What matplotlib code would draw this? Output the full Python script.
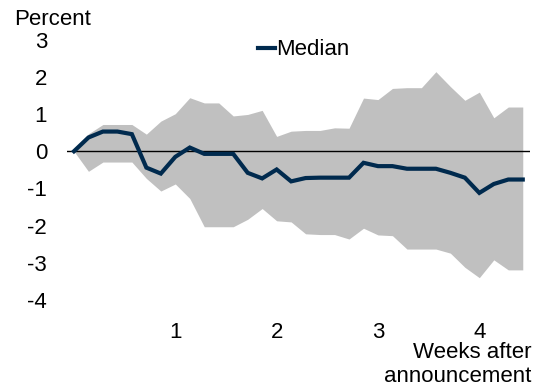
import numpy as np
import matplotlib
matplotlib.use("Agg")
import matplotlib.pyplot as plt

plt.rcParams['font.family'] = ['Liberation Sans', 'DejaVu Sans']

days = list(range(32))
median = [0.0, 0.37, 0.53, 0.53, 0.46, -0.44, -0.6, -0.15, 0.1, -0.07, -0.07, -0.07,
          -0.58, -0.73, -0.49, -0.81, -0.72, -0.71, -0.71, -0.71, -0.31, -0.4, -0.4,
          -0.47, -0.47, -0.47, -0.58, -0.71, -1.12, -0.88, -0.76, -0.76]
upper = [0.0, 0.47, 0.72, 0.72, 0.72, 0.46, 0.81, 1.01, 1.44, 1.3, 1.3, 0.95,
         0.99, 1.1, 0.4, 0.54, 0.56, 0.56, 0.63, 0.62, 1.43, 1.39, 1.69,
         1.71, 1.71, 2.14, 1.74, 1.37, 1.59, 0.9, 1.19, 1.19]
lower = [0.0, -0.54, -0.29, -0.29, -0.29, -0.73, -1.07, -0.88, -1.27, -2.03, -2.03, -2.03,
         -1.83, -1.54, -1.87, -1.9, -2.22, -2.24, -2.24, -2.36, -2.07, -2.25, -2.27,
         -2.63, -2.63, -2.63, -2.74, -3.12, -3.4, -2.92, -3.19, -3.19]
yticks = [-4, -3, -2, -1, 0, 1, 2, 3]
xticks = [1, 2, 3, 4]

weeks = np.array(days) / 7.0
FS = 16

fig = plt.figure(figsize=(5.39, 3.87), dpi=100)
ax = fig.add_axes([0.1237, 0.2248, 0.9833 - 0.1237, 0.8974 - 0.2248])

ax.fill_between(weeks, lower, upper, color='#c0c0c0', linewidth=0, zorder=1)
ax.axhline(0, color='black', linewidth=1.0, zorder=2)
ax.plot(weeks, median, color='#002a4e', linewidth=3, label='Median', zorder=3,
        solid_joinstyle='miter')

ax.set_xlim(-0.072, 4.50)
ax.set_ylim(-4, 3)
ax.set_yticks(yticks)
ax.set_yticklabels([str(t) for t in yticks])
ax.set_xticks(xticks)
ax.set_xticklabels([str(t) for t in xticks])
ax.tick_params(axis='both', length=0, labelsize=FS)
ax.tick_params(axis='y', pad=14)
ax.tick_params(axis='x', pad=16)
for s in ax.spines.values():
    s.set_visible(False)

fig.text(0.026, 0.935, 'Percent', fontsize=FS, ha='left', va='baseline')
fig.text(0.986, 0.090, 'Weeks after', fontsize=FS, ha='right', va='center')
fig.text(0.986, 0.026, 'announcement', fontsize=FS, ha='right', va='center')

leg = ax.legend(loc='center', bbox_to_anchor=(0.564, 0.871),
                bbox_transform=fig.transFigure, frameon=False, fontsize=FS,
                handlelength=0.77, handletextpad=0.05)

fig.savefig('out.png', dpi=100)
